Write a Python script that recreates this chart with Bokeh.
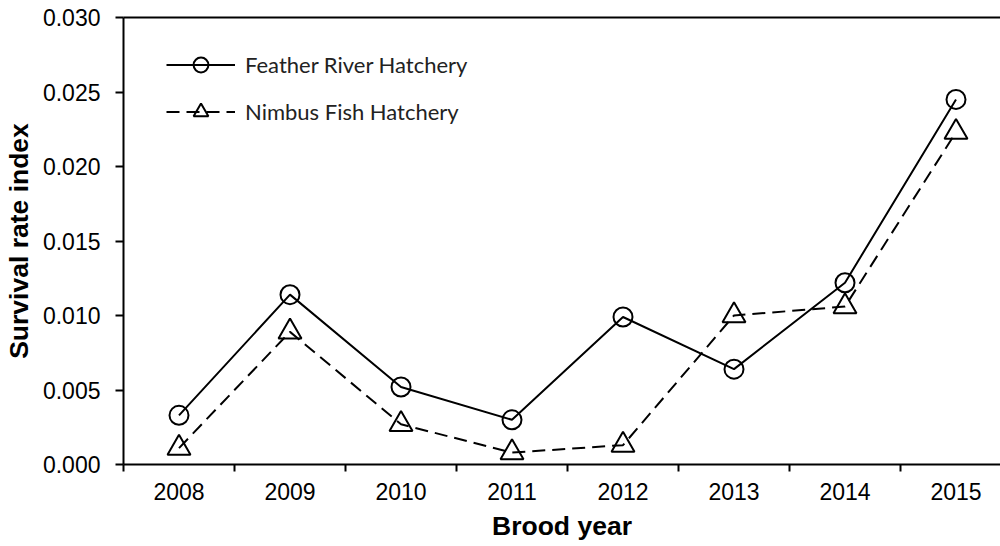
from bokeh.plotting import figure
from bokeh.models import (Range1d, FixedTicker, PrintfTickFormatter, LinearAxis,
                          Legend, LegendItem)
from bokeh.embed import file_html
from bokeh.resources import INLINE

# ---- data ----
years = [2008, 2009, 2010, 2011, 2012, 2013, 2014, 2015]
feather = [0.0033, 0.0114, 0.0052, 0.0030, 0.0099, 0.0064, 0.0122, 0.0245]
nimbus = [0.0011, 0.0089, 0.0027, 0.0008, 0.0013, 0.0100, 0.0106, 0.0223]
y_ticks = [0.000, 0.005, 0.010, 0.015, 0.020, 0.025, 0.030]
series_names = ["Feather River Hatchery", "Nimbus Fish Hatchery"]
x_title = "Brood year"
y_title = "Survival rate index"

TICK_FONT = "Liberation Sans"
LEG_FONT = "Lato"

W, H = 1000, 546
LEFT, TOP, FRAME_H, CAT_W = 123, 17, 447, 111.0

p = figure(width=W, height=H, output_backend="svg", toolbar_location=None,
           x_range=Range1d(years[0] - 0.5, years[0] - 0.5 + (W - LEFT) / CAT_W),
           y_range=Range1d(y_ticks[0], y_ticks[-1]),
           min_border_left=LEFT, min_border_right=0, min_border_top=TOP,
           min_border_bottom=H - TOP - FRAME_H)
p.grid.visible = False
p.outline_line_color = None
p.background_fill_color = "white"
p.border_fill_color = "white"

# x axis: labels at year centres, tick marks at category boundaries
bounds = [y - 0.5 for y in years] + [years[-1] + 0.5]
xa = p.xaxis[0]
xa.ticker = FixedTicker(ticks=years, minor_ticks=bounds)
xa.major_tick_line_color = None
xa.major_tick_out = 7
xa.major_tick_in = 0
xa.minor_tick_line_color = "black"
xa.minor_tick_line_width = 2
xa.minor_tick_out = 7
xa.minor_tick_in = 0
xa.axis_line_width = 2
xa.axis_line_color = "black"
xa.major_label_standoff = 11
xa.major_label_text_font = TICK_FONT
xa.major_label_text_font_size = "23px"
xa.major_label_text_color = "black"
xa.axis_label = x_title
xa.axis_label_text_font = TICK_FONT
xa.axis_label_text_font_style = "bold"
xa.axis_label_text_font_size = "26.5px"
xa.axis_label_text_color = "black"
xa.axis_label_standoff = 8

ya = p.yaxis[0]
ya.ticker = FixedTicker(ticks=y_ticks, minor_ticks=[])
ya.formatter = PrintfTickFormatter(format="%.3f")
ya.major_tick_out = 8
ya.major_tick_in = 0
ya.major_tick_line_width = 2
ya.minor_tick_line_color = None
ya.axis_line_width = 2
ya.axis_line_color = "black"
ya.major_label_standoff = 15
ya.major_label_text_font = TICK_FONT
ya.major_label_text_font_size = "23px"
ya.major_label_text_color = "black"
ya.axis_label = y_title
ya.axis_label_text_font = TICK_FONT
ya.axis_label_text_font_style = "bold"
ya.axis_label_text_font_size = "26.5px"
ya.axis_label_text_color = "black"
ya.axis_label_standoff = 6

# top border line
top = LinearAxis(ticker=FixedTicker(ticks=[], minor_ticks=[]),
                 major_label_text_font_size="0px", major_tick_out=0,
                 major_tick_in=0, minor_tick_out=0, minor_tick_in=0,
                 major_label_standoff=0, axis_line_width=2,
                 axis_line_color="black")
p.add_layout(top, "above")

# series
l1 = p.line(years, feather, line_color="black", line_width=2)
s1 = p.scatter(years, feather, marker="circle", size=19, fill_color=None,
               line_color="black", line_width=2)
l2 = p.line(years, nimbus, line_color="black", line_width=2, line_dash="13 7")
s2 = p.scatter(years, nimbus, marker="triangle", size=23, fill_color=None,
               line_color="black", line_width=2)

legend = Legend(items=[LegendItem(label=series_names[0], renderers=[l1, s1]),
                       LegendItem(label=series_names[1], renderers=[l2, s2])],
                location=(43, 334), glyph_width=69, glyph_height=37,
                spacing=10, padding=0, margin=0, border_line_color=None,
                background_fill_alpha=0, label_standoff=10,
                label_text_font=LEG_FONT, label_text_font_size="22px",
                label_text_color="#222222")
p.add_layout(legend)

open("out.html", "w").write(file_html(p, INLINE))
